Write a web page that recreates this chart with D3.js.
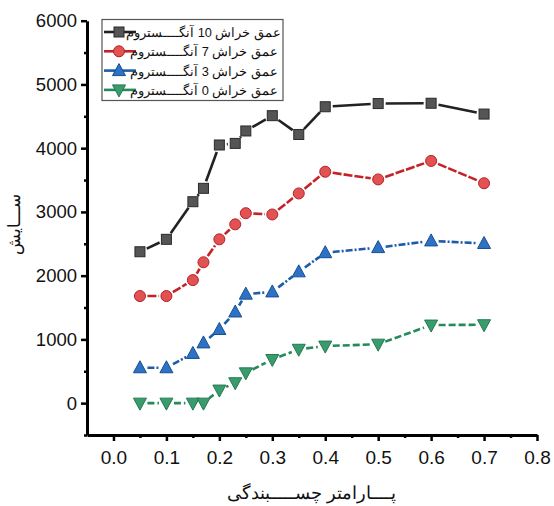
<!DOCTYPE html>
<html lang="fa">
<head>
<meta charset="UTF-8">
<title>سایش</title>
<style>
  body { margin: 0; background: #fff; }
  text { font-family: "Liberation Sans", Arial, sans-serif; }
</style>
<script src="https://cdn.jsdelivr.net/npm/d3@7"></script>
</head>
<body>
<svg id="chart" width="554" height="506"></svg>
<script>
// data
const xValues = [0.05, 0.1, 0.15, 0.17, 0.2, 0.23, 0.25, 0.3, 0.35, 0.4, 0.5, 0.6, 0.7];
const depth10 = [2375, 2570, 3160, 3370, 4050, 4075, 4270, 4510, 4215, 4650, 4700, 4705, 4535];
const depth7  = [1680, 1680, 1930, 2210, 2570, 2805, 2980, 2960, 3290, 3630, 3510, 3800, 3450];
const depth3  = [555, 555, 780, 945, 1155, 1430, 1710, 1745, 2060, 2360, 2440, 2545, 2505];
const depth0  = [0, 0, 0, 0, 205, 320, 475, 685, 845, 895, 925, 1225, 1230];
const seriesNames = ["عمق خراش 10 آنگــــستروم", "عمق خراش 7 آنگــــستروم", "عمق خراش 3 آنگــــستروم", "عمق خراش 0 آنگــــستروم"];
const xTicks = [0.0, 0.1, 0.2, 0.3, 0.4, 0.5, 0.6, 0.7, 0.8];
const yTicks = [0, 1000, 2000, 3000, 4000, 5000, 6000];

const series = [
  { name: seriesNames[0], values: depth10, line: "#222", fill: "#555", stroke: "#2a2a2a", shape: "square", dash: null },
  { name: seriesNames[1], values: depth7, line: "#c42226", fill: "#e35252", stroke: "#b51f24", shape: "circle", dash: "9,2" },
  { name: seriesNames[2], values: depth3, line: "#1d5ca8", fill: "#2d72c4", stroke: "#174e92", shape: "up", dash: "7,2,2,2" },
  { name: seriesNames[3], values: depth0, line: "#248a5c", fill: "#3a9b6c", stroke: "#237a52", shape: "down", dash: "7,3" }
];

const svg = d3.select("#chart");
const x = d3.scaleLinear().domain([-0.05, 0.8]).range([87, 537]);
const y = d3.scaleLinear().domain([-500, 6000]).range([435, 20.7]);

// markers
function marker(g, s, cx, cy) {
  let el;
  if (s.shape === "circle") {
    el = g.append("circle").attr("cx", cx).attr("cy", cy).attr("r", 5.5);
  } else if (s.shape === "square") {
    el = g.append("rect").attr("x", cx - 5).attr("y", cy - 5).attr("width", 10).attr("height", 10);
  } else if (s.shape === "up") {
    el = g.append("path").attr("d", `M${cx},${cy-7}L${cx+6.5},${cy+5}L${cx-6.5},${cy+5}Z`);
  } else {
    el = g.append("path").attr("d", `M${cx},${cy+7}L${cx+6.5},${cy-5}L${cx-6.5},${cy-5}Z`);
  }
  el.attr("fill", s.fill).attr("stroke", s.stroke).attr("stroke-width", 1);
}

// axes
const xAxis = svg.append("g").attr("transform", "translate(0,435)");
xAxis.call(d3.axisBottom(x).tickValues(xTicks).tickFormat(d3.format(".1f")).tickSize(6).tickSizeOuter(0));
xAxis.append("g").call(d3.axisBottom(x).tickValues(d3.range(0.05, 0.8, 0.1)).tickFormat("").tickSize(3).tickSizeOuter(0))
  .select(".domain").remove();

const yAxis = svg.append("g").attr("transform", "translate(87,0)");
yAxis.call(d3.axisLeft(y).tickValues(yTicks).tickFormat(d3.format("d")).tickSize(6).tickSizeOuter(0));
yAxis.append("g").call(d3.axisLeft(y).tickValues([-500, 500, 1500, 2500, 3500, 4500, 5500]).tickFormat("").tickSize(3).tickSizeOuter(0))
  .select(".domain").remove();

svg.selectAll(".domain").attr("stroke", "#000").attr("stroke-width", 3);
svg.selectAll(".tick line").attr("stroke", "#000").attr("stroke-width", 2.5);
xAxis.selectAll(".tick text").attr("font-size", 19).attr("fill", "#111").attr("dy", "1.05em");
yAxis.selectAll(".tick text").attr("font-size", 18.5).attr("fill", "#111").attr("x", -10);

// axis titles
svg.append("text").attr("x", 312).attr("y", 499).attr("text-anchor", "middle")
  .attr("font-size", 18).attr("fill", "#111").attr("direction", "rtl")
  .text("پــــارامتر چســـــبندگی");
svg.append("text").attr("transform", "translate(20,224) rotate(-90)").attr("text-anchor", "middle")
  .attr("font-size", 17).attr("fill", "#111").attr("direction", "rtl")
  .text("ســـایش");

// series: segments with a gap around the markers
series.forEach(s => {
  const g = svg.append("g");
  const pts = xValues.map((v, i) => [x(v), y(s.values[i])]);
  for (let i = 0; i < pts.length - 1; i++) {
    const [x0, y0] = pts[i], [x1, y1] = pts[i + 1];
    const len = Math.hypot(x1 - x0, y1 - y0);
    const gap = 7.5;
    if (len <= gap * 2) continue;
    const ux = (x1 - x0) / len, uy = (y1 - y0) / len;
    g.append("line")
      .attr("x1", x0 + ux * gap).attr("y1", y0 + uy * gap)
      .attr("x2", x1 - ux * gap).attr("y2", y1 - uy * gap)
      .attr("stroke", s.line).attr("stroke-width", 2.6)
      .attr("stroke-dasharray", s.dash);
  }
  pts.forEach(p => marker(g, s, p[0], p[1]));
});

// legend
const legend = svg.append("g");
legend.append("rect").attr("x", 102).attr("y", 19.5).attr("width", 181).attr("height", 81)
  .attr("fill", "#fff").attr("stroke", "#555").attr("stroke-width", 1.2);
series.forEach((s, i) => {
  const ly = 32 + i * 19.3;
  legend.append("line").attr("x1", 104).attr("x2", 136).attr("y1", ly).attr("y2", ly)
    .attr("stroke", s.line).attr("stroke-width", 2.6);
  marker(legend, s, 119, ly);
  legend.append("text").attr("x", 281 - (i > 0 ? 3 : 0)).attr("y", ly + 5)
    .attr("text-anchor", "start").attr("direction", "rtl")
    .attr("font-size", 12.8).attr("fill", "#111").text(s.name);
});
</script>
</body>
</html>
